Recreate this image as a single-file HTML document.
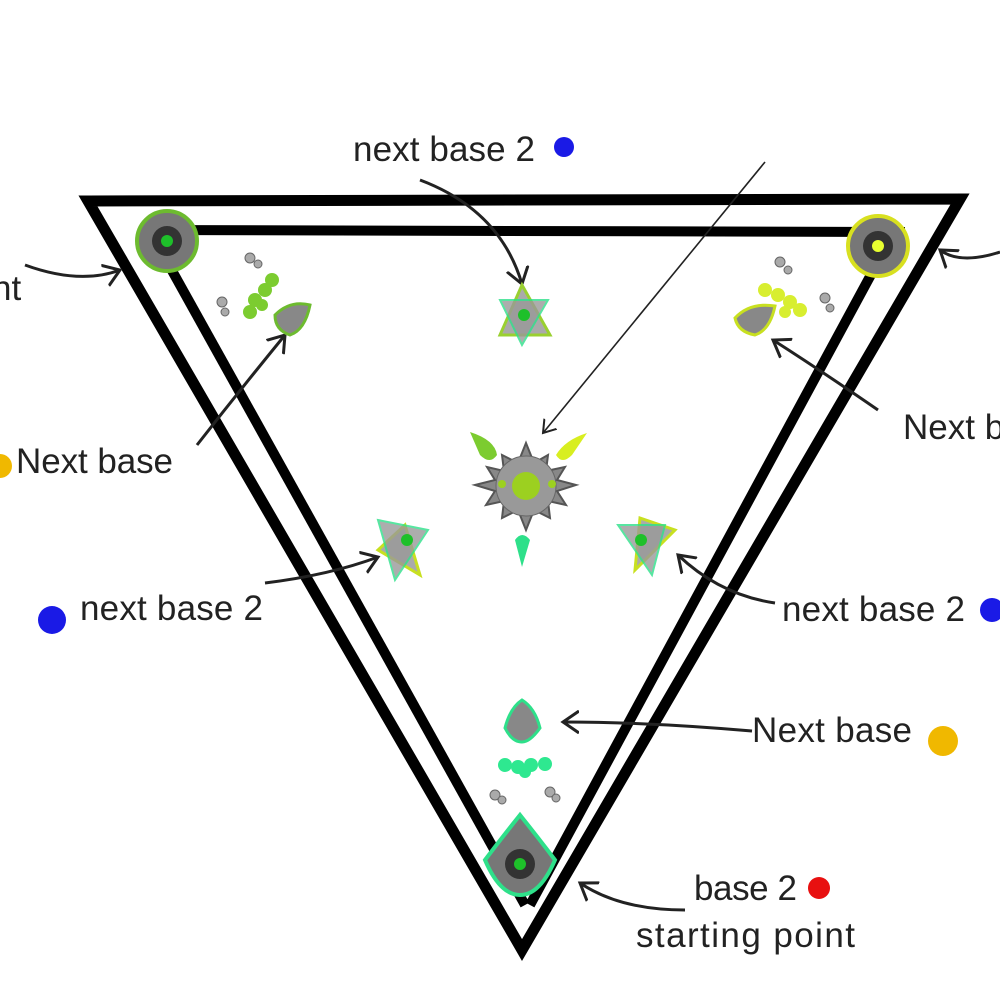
<!DOCTYPE html>
<html><head><meta charset="utf-8"><style>
html,body{margin:0;padding:0;background:#fff;}
svg{display:block}
text{font-family:"Liberation Sans",sans-serif;font-size:35px;fill:#222}
</style></head><body>
<svg width="1000" height="1000" viewBox="0 0 1000 1000" xmlns="http://www.w3.org/2000/svg">
<defs>
<marker id="ah" markerWidth="20" markerHeight="24" refX="16" refY="12" orient="auto" markerUnits="userSpaceOnUse">
<path d="M0,1 L16,12 L0,23" fill="none" stroke="#222" stroke-width="3"/></marker>
<marker id="ah2" markerWidth="16" markerHeight="18" refX="12" refY="9" orient="auto" markerUnits="userSpaceOnUse">
<path d="M0,1 L12,9 L0,17" fill="none" stroke="#222" stroke-width="2"/></marker>
</defs>
<g fill="none" stroke="#000" stroke-linejoin="miter">
<path d="M88,201 L960,199 L522,950 Z" stroke-width="11"/>
<path d="M140,230 L905,232" stroke-width="10"/>
<path d="M165,258 L525,905" stroke-width="10"/>
<path d="M880,258 L530,905" stroke-width="10"/>
</g>
<path d="M765,162 L543,433" stroke="#222" stroke-width="1.6" fill="none" marker-end="url(#ah2)"/>
<g stroke="#222" stroke-width="3" fill="none" marker-end="url(#ah)">
<path d="M420,180 Q500,210 522,284"/>
<path d="M25,265 Q80,285 120,270"/>
<path d="M1000,252 Q960,265 940,250"/>
<path d="M197,445 Q240,390 285,335"/>
<path d="M878,410 Q820,370 773,340"/>
<path d="M265,583 Q330,575 378,557"/>
<path d="M775,603 Q720,595 678,555"/>
<path d="M752,731 Q650,722 563,722"/>
<path d="M685,910 Q620,910 580,883"/>
</g>
<g>
<circle cx="167" cy="241" r="30" fill="#777" stroke="#6dbb2f" stroke-width="4"/>
<circle cx="167" cy="241" r="15" fill="#333"/><circle cx="167" cy="241" r="6" fill="#1ec02a"/>
<circle cx="878" cy="246" r="30" fill="#777" stroke="#d8e020" stroke-width="4"/>
<circle cx="878" cy="246" r="15" fill="#333"/><circle cx="878" cy="246" r="6" fill="#e8ff30"/>
<path d="M485,860 Q500,840 520,815 Q540,840 555,860 Q540,895 520,895 Q500,895 485,860Z" fill="#777" stroke="#2ee08a" stroke-width="4"/>
<circle cx="520" cy="864" r="15" fill="#333"/><circle cx="520" cy="864" r="6" fill="#1ec02a"/>
</g>
<path d="M275,315 Q290,300 310,305 Q305,330 290,335 Q275,330 275,315Z" fill="#888" stroke="#6dbb2f" stroke-width="3"/>
<path d="M735,318 Q750,302 775,306 Q770,330 755,335 Q738,332 735,318Z" fill="#888" stroke="#c8e020" stroke-width="3"/>
<path d="M505,728 Q510,708 522,700 Q535,708 540,728 Q530,742 522,742 Q512,742 505,728Z" fill="#888" stroke="#2ee08a" stroke-width="3"/>
<g fill="#7ccc30"><circle cx="255" cy="300" r="7"/><circle cx="265" cy="290" r="7"/><circle cx="272" cy="280" r="7"/><circle cx="250" cy="312" r="7"/><circle cx="262" cy="305" r="6"/></g>
<g fill="#d8ee30"><circle cx="765" cy="290" r="7"/><circle cx="778" cy="295" r="7"/><circle cx="790" cy="302" r="7"/><circle cx="800" cy="310" r="7"/><circle cx="785" cy="312" r="6"/></g>
<g fill="#2ee890"><circle cx="505" cy="765" r="7"/><circle cx="518" cy="767" r="7"/><circle cx="531" cy="765" r="7"/><circle cx="545" cy="764" r="7"/><circle cx="525" cy="772" r="6"/></g>
<g fill="#aaa" stroke="#666" stroke-width="1"><circle cx="250" cy="258" r="5"/><circle cx="258" cy="264" r="4"/><circle cx="222" cy="302" r="5"/><circle cx="225" cy="312" r="4"/>
<circle cx="780" cy="262" r="5"/><circle cx="788" cy="270" r="4"/><circle cx="825" cy="298" r="5"/><circle cx="830" cy="308" r="4"/>
<circle cx="495" cy="795" r="5"/><circle cx="502" cy="800" r="4"/><circle cx="550" cy="792" r="5"/><circle cx="556" cy="798" r="4"/></g>
<g>
<path d="M522,285 L550,335 L500,335 Z" fill="#aaa" stroke="#9ad030" stroke-width="3"/>
<path d="M522,345 L500,300 L548,300 Z" fill="#999" stroke="#2ee08a" stroke-width="2" opacity="0.8"/>
<circle cx="524" cy="315" r="6" fill="#1ec02a"/>
<path d="M405,525 L420,575 L378,550 Z" fill="#aaa" stroke="#c8e020" stroke-width="3"/>
<path d="M378,520 L428,530 L395,580 Z" fill="#999" stroke="#2ee08a" stroke-width="2" opacity="0.8"/>
<circle cx="407" cy="540" r="6" fill="#1ec02a"/>
<path d="M640,518 L675,530 L635,570 Z" fill="#aaa" stroke="#c8e020" stroke-width="3"/>
<path d="M618,525 L665,525 L652,575 Z" fill="#999" stroke="#2ee08a" stroke-width="2" opacity="0.8"/>
<circle cx="641" cy="540" r="6" fill="#1ec02a"/>
</g>
<g>
<polygon points="526,443 534,463 548,455 546,471 565,467 557,480 576,485 557,491 566,505 548,501 550,518 534,510 526,530 518,510 502,518 504,501 486,505 495,491 475,485 495,480 487,467 504,471 502,455 518,463" fill="#888" stroke="#555" stroke-width="2"/>
<circle cx="526" cy="486" r="30" fill="#999" stroke="#666"/>
<circle cx="526" cy="486" r="14" fill="#9cd020"/>
<circle cx="502" cy="484" r="4" fill="#9cd020"/><circle cx="552" cy="484" r="4" fill="#9cd020"/>
<path d="M470,432 Q495,440 497,455 Q490,465 480,455 Z" fill="#7ccc30"/>
<path d="M587,433 Q565,440 556,455 Q562,465 572,455 Z" fill="#d8ee20"/>
<path d="M522,567 L515,540 Q522,530 530,540 Z" fill="#2ee08a"/>
</g>
<circle cx="564" cy="147" r="10" fill="#1a1ae6"/>
<circle cx="52" cy="620" r="14" fill="#1a1ae6"/>
<circle cx="992" cy="610" r="12" fill="#1a1ae6"/>
<circle cx="0" cy="466" r="12" fill="#f0b800"/>
<circle cx="943" cy="741" r="15" fill="#f0b800"/>
<circle cx="819" cy="888" r="11" fill="#e81010"/>
<text x="353" y="161" textLength="182">next base 2</text>
<text x="-8" y="300">nt</text>
<text x="16" y="473" textLength="157">Next base</text>
<text x="903" y="439">Next b</text>
<text x="80" y="620" textLength="183">next base 2</text>
<text x="782" y="621" textLength="183">next base 2</text>
<text x="752" y="742" textLength="160">Next base</text>
<text x="694" y="900" textLength="103">base 2</text>
<text x="636" y="947" textLength="219">starting point</text>
</svg>
</body></html>
